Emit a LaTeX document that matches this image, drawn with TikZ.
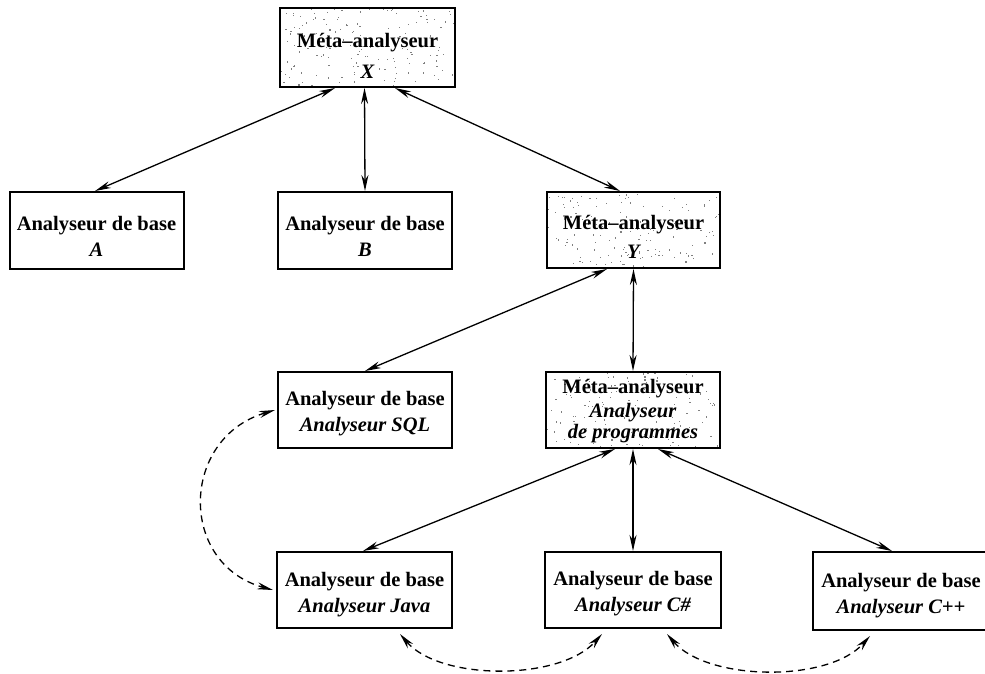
\documentclass[tikz,border=0pt]{standalone}
\usepackage{fontspec}
\setmainfont{Liberation Serif}
\usetikzlibrary{arrows.meta,calc}
\newcommand\lift[1]{\rule{0pt}{#1}}
\begin{document}
\begin{tikzpicture}[x=1pt,y=-1pt,
  box/.style={draw=black,line width=2pt,fill=white,minimum width=174pt,minimum height=77pt,
    inner sep=0pt,align=center,font=\fontsize{20.5}{26}\selectfont\bfseries},
  meta/.style={box,path picture={
    \foreach \k in {1,...,150}{
      \pgfmathsetmacro\rx{rnd}\pgfmathsetmacro\ry{rnd}
      \fill[black!50] ($(path picture bounding box.south west)+(\rx*176pt,\ry*80pt)$) rectangle +(1.2pt,1.2pt);
    }}},
  link/.style={line width=1.3pt,{Stealth[length=16pt,width=7pt]}-{Stealth[length=16pt,width=7pt]}},
  dlink/.style={link,dash pattern=on 7pt off 5pt},
]
\useasboundingbox (0,0) rectangle (985,673);
\pgfmathsetseed{7}
\node[meta,minimum width=175pt,minimum height=79pt,font=\fontsize{20.5}{31}\selectfont\bfseries] (X) at (367.5,47.5) {\lift{30pt}Méta--analyseur\\\itshape X};
\node[box] (A) at (96.5,230.5) {\lift{26pt}Analyseur de base\\\itshape A};
\node[box] (B) at (365,230.5) {\lift{26pt}Analyseur de base\\\itshape B};
\node[meta,minimum width=173pt,minimum height=76pt,font=\fontsize{20.5}{29}\selectfont\bfseries] (Y) at (633.5,230) {\lift{28pt}Méta--analyseur\\\itshape Y};
\node[box,minimum height=76pt] (SQL) at (365,410) {\lift{22pt}Analyseur de base\\\itshape Analyseur SQL};
\node[meta,minimum width=174pt,minimum height=76pt] (P) at (633,410) {\lift{16pt}Méta--analyseur\\[-2pt]\itshape Analyseur\\[-5pt]\itshape de programmes};
\node[box,minimum width=175pt,minimum height=76pt] (J) at (364.5,590) {\lift{24pt}Analyseur de base\\\itshape Analyseur Java};
\node[box,minimum width=176pt,minimum height=76pt] (CS) at (633,590) {\lift{22pt}Analyseur de base\\\itshape Analyseur C\#};
\node[box,minimum width=176pt,minimum height=78pt] (CP) at (901,591) {\lift{24pt}Analyseur de base\\\itshape Analyseur C++};

\draw[link] ([xshift=-32.5pt]X.south) -- ([xshift=-1.5pt]A.north);
\draw[link] ([xshift=-3pt]X.south) -- (B.north);
\draw[link] ([xshift=27.5pt]X.south) -- ([xshift=-13.5pt]Y.north);
\draw[link] ([xshift=-26.5pt]Y.south) -- (SQL.north);
\draw[link] (Y.south) -- (P.north);
\draw[link] ([xshift=-18pt]P.south) -- ([xshift=-1.5pt]J.north);
\draw[link] (P.south) -- (CS.north);
\draw[link] ([xshift=25pt]P.south) -- ([xshift=-9pt]CP.north);

\draw[dlink] ([xshift=-2pt]SQL.west) .. controls +(-95,28) and +(-95,-26) .. ([xshift=-3pt]J.west);
\draw[dlink] ([xshift=35.5pt,yshift=-5pt]J.south) .. controls +(40,47) and +(-42,47) .. ([xshift=-31pt,yshift=-5pt]CS.south);
\draw[dlink] ([xshift=34pt,yshift=-5pt]CS.south) .. controls +(40,47) and +(-42,47) .. ([xshift=-31pt,yshift=-5pt]CP.south);
\end{tikzpicture}
\end{document}
